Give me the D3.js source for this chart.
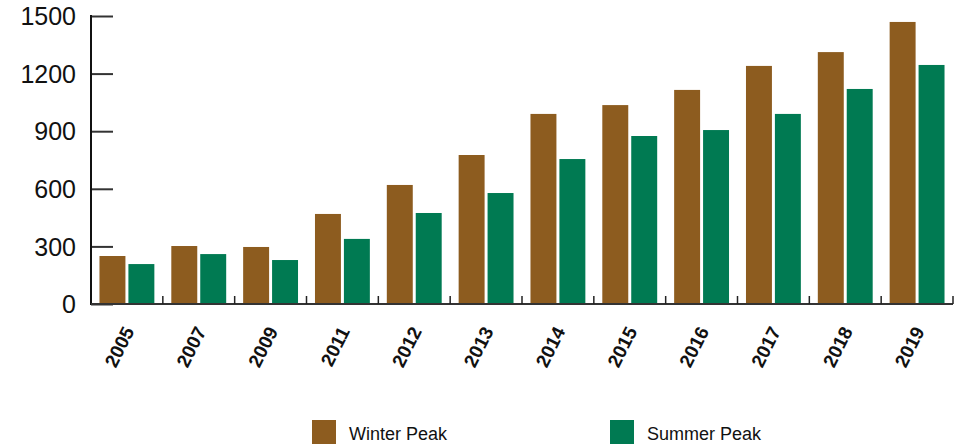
<!DOCTYPE html>
<html>
<head>
<meta charset="utf-8">
<script src="https://cdn.jsdelivr.net/npm/d3@7"></script>
<style>
  body { margin: 0; background: #fff; }
  svg text { font-family: "Liberation Sans", Arial, sans-serif; fill: #111; }
</style>
</head>
<body>
<svg id="chart" width="963" height="445"></svg>
<script>
// Chart data
const years = ["2005", "2007", "2009", "2011", "2012", "2013", "2014", "2015", "2016", "2017", "2018", "2019"];
const winterPeak = [250, 302, 297, 469, 620, 776, 990, 1036, 1115, 1240, 1312, 1469];
const summerPeak = [208, 260, 229, 339, 474, 578, 755, 875, 906, 990, 1120, 1245];
const seriesNames = ["Winter Peak", "Summer Peak"];
const yTicks = [0, 300, 600, 900, 1200, 1500];

const colors = ["#8d5c1f", "#007a52"];

const svg = d3.select("#chart");
const margin = { top: 16, right: 10, bottom: 141, left: 91 };
const width = 963 - margin.left - margin.right;
const height = 445 - margin.top - margin.bottom;

const g = svg.append("g").attr("transform", `translate(${margin.left},${margin.top})`);

// Scales
const x0 = d3.scaleBand()
  .domain(years)
  .range([0, 862])
  .paddingInner(0.236)
  .paddingOuter(0.118);

const x1 = d3.scaleBand()
  .domain(seriesNames)
  .range([0, x0.bandwidth()])
  .paddingInner(0.103);

const y = d3.scaleLinear().domain([0, 1500]).range([height, 0]);

const rows = years.map((yr, i) => ({ year: yr, values: [winterPeak[i], summerPeak[i]] }));

// Bars
const groups = g.selectAll(".year-group")
  .data(rows)
  .join("g")
  .attr("class", "year-group")
  .attr("transform", d => `translate(${x0(d.year)},0)`);

groups.selectAll("rect")
  .data(d => d.values.map((v, i) => ({ key: seriesNames[i], value: v, idx: i })))
  .join("rect")
  .attr("x", d => x1(d.key))
  .attr("y", d => y(d.value))
  .attr("width", x1.bandwidth())
  .attr("height", d => height - y(d.value))
  .attr("fill", d => colors[d.idx]);

// Y axis (ticks pointing into the plot)
const yAxis = g.append("g")
  .call(d3.axisRight(y).tickValues(yTicks).tickSize(22).tickFormat(d3.format("d")));
yAxis.select(".domain").remove();
yAxis.selectAll(".tick line").attr("stroke", "#333").attr("stroke-width", 2);
yAxis.selectAll(".tick text")
  .attr("x", -15)
  .attr("text-anchor", "end")
  .attr("font-size", 25)
  .attr("dy", "0.35em");

g.append("line")
  .attr("x1", 0).attr("x2", 0)
  .attr("y1", y(1500) - 1).attr("y2", height + 1)
  .attr("stroke", "#111").attr("stroke-width", 2);

// X axis baseline with boundary ticks
g.append("line")
  .attr("x1", 0).attr("x2", 862)
  .attr("y1", height).attr("y2", height)
  .attr("stroke", "#333").attr("stroke-width", 2);

const step = x0.step();
g.selectAll(".xtick")
  .data(years.slice(1).concat(["end"]))
  .join("line")
  .attr("class", "xtick")
  .attr("x1", (d, i) => (i + 1) * step)
  .attr("x2", (d, i) => (i + 1) * step)
  .attr("y1", height - 8)
  .attr("y2", height)
  .attr("stroke", "#222")
  .attr("stroke-width", 1.5);

// X labels rotated
g.selectAll(".xlabel")
  .data(years)
  .join("text")
  .attr("class", "xlabel")
  .attr("transform", d => `translate(${x0(d) + x0.bandwidth() / 2 + 2},${height + 24}) rotate(-63)`)
  .attr("text-anchor", "end")
  .attr("font-size", 19)
  .attr("font-weight", "bold")
  .attr("dy", "0.35em")
  .text(d => d);

// Legend
const legendX = [312, 610];
const legend = svg.selectAll(".legend")
  .data(seriesNames)
  .join("g")
  .attr("class", "legend")
  .attr("transform", (d, i) => `translate(${legendX[i]},420)`);

legend.append("rect")
  .attr("width", 24).attr("height", 24)
  .attr("fill", (d, i) => colors[i]);

legend.append("text")
  .attr("x", 37).attr("y", 14)
  .attr("dy", "0.35em")
  .attr("font-size", 18)
  .text(d => d);
</script>
</body>
</html>
